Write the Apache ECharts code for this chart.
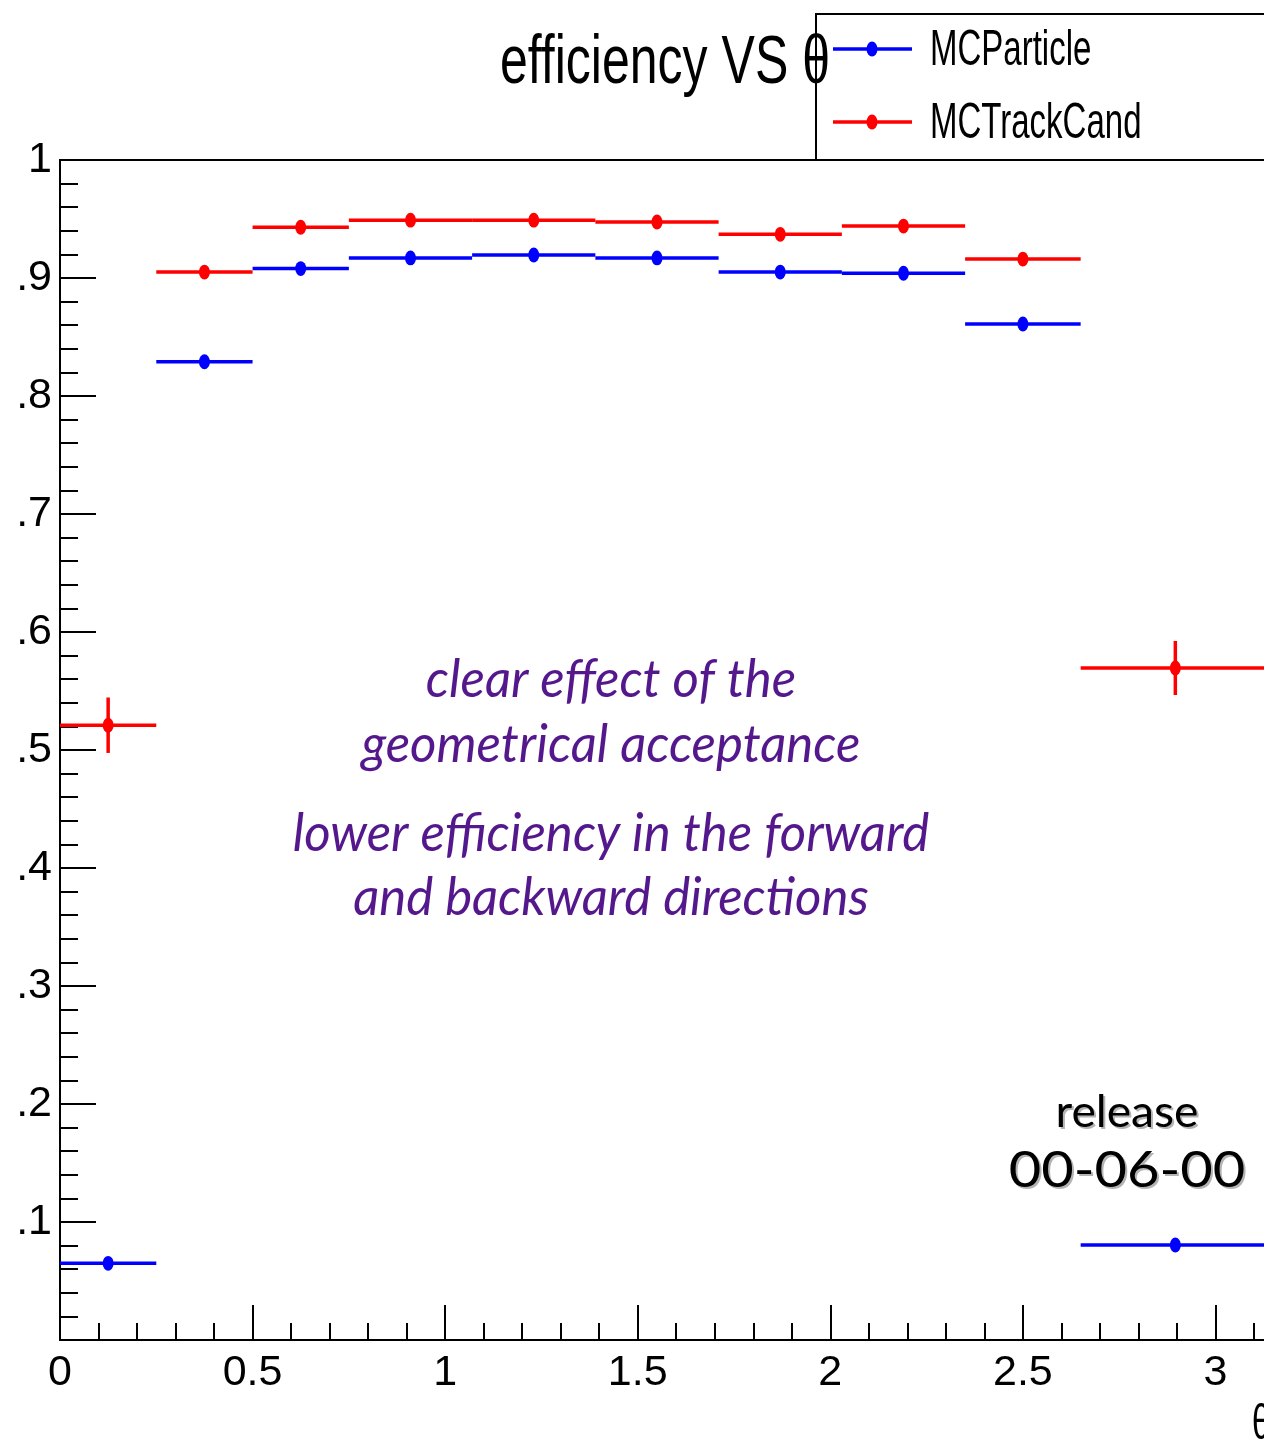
<!DOCTYPE html>
<html>
<head>
<meta charset="utf-8">
<script src="https://cdn.jsdelivr.net/npm/echarts@6/dist/echarts.min.js"></script>
<style>
  html, body { margin: 0; padding: 0; background: #fff; }
  #chart { width: 1264px; height: 1443px; }
</style>
</head>
<body>
<div id="chart"></div>
<script>
// bins in theta (rad)
var binLow  = [0, 0.25, 0.5, 0.75, 1.07, 1.39, 1.71, 2.03, 2.35, 2.65];
var binHigh = [0.25, 0.5, 0.75, 1.07, 1.39, 1.71, 2.03, 2.35, 2.65, 3.1416];

// efficiency per bin
var seriesNames = ['MCParticle', 'MCTrackCand'];
var particleEff = [0.065, 0.829, 0.908, 0.917, 0.9195, 0.917, 0.905, 0.904, 0.861, 0.0805];
var particleErr = [0.003, 0.004, 0.003, 0.003, 0.003, 0.003, 0.003, 0.003, 0.004, 0.003];
var trackEff    = [0.521, 0.905, 0.943, 0.949, 0.949, 0.9475, 0.937, 0.944, 0.916, 0.5695];
var trackErr    = [0.0235, 0.004, 0.003, 0.003, 0.003, 0.003, 0.003, 0.003, 0.004, 0.0229];

var NARROW = '"Liberation Sans Narrow", "Arial Narrow", "Liberation Sans", sans-serif';
var SANS = '"Liberation Sans", Arial, sans-serif';

function toRows(eff, err) {
  return eff.map(function (v, i) { return [binLow[i], binHigh[i], v, err[i]]; });
}

// horizontal bin width + vertical error + marker
function renderErr(params, api) {
  var lo = api.value(0), hi = api.value(1), y = api.value(2), e = api.value(3);
  var xc = (lo + hi) / 2;
  var a = api.coord([lo, y]), b = api.coord([hi, y]);
  var t = api.coord([xc, y + e]), d = api.coord([xc, y - e]);
  var c = api.coord([xc, y]);
  var color = api.visual('color');
  return {
    type: 'group',
    children: [
      { type: 'line', shape: { x1: a[0], y1: a[1], x2: b[0], y2: b[1] }, style: { stroke: color, lineWidth: 3.5 } },
      { type: 'line', shape: { x1: t[0], y1: t[1], x2: d[0], y2: d[1] }, style: { stroke: color, lineWidth: 3.5 } },
      { type: 'circle', x: c[0], y: c[1], scaleY: 1.35, shape: { cx: 0, cy: 0, r: 5.5 }, style: { fill: color } }
    ]
  };
}

function legendItem(y, color, name) {
  return [
    { type: 'line', shape: { x1: 833, y1: y, x2: 912, y2: y }, style: { stroke: color, lineWidth: 3.5 } },
    { type: 'circle', x: 872, y: y, scaleY: 1.35, shape: { cx: 0, cy: 0, r: 5.5 }, style: { fill: color } },
    { type: 'text', x: 930, y: y + 2, scaleX: 0.66,
      style: { text: name, font: '50px ' + SANS, fill: '#000', textVerticalAlign: 'middle' } }
  ];
}

function note(text, y) {
  return { type: 'text', x: 611, y: y, scaleX: 0.98,
    style: { text: text, font: 'italic 52px Lato, sans-serif', fill: '#54188c',
             textAlign: 'center', textVerticalAlign: 'middle' } };
}

// text with a grey drop shadow drawn as a second copy
function shadowed(text, x, y, size, sx) {
  var base = { text: text, font: size + 'px Lato, sans-serif', textAlign: 'center', textVerticalAlign: 'middle' };
  return [
    { type: 'text', x: x + 2, y: y + 2, scaleX: sx, style: Object.assign({ fill: '#b4b4b4' }, base) },
    { type: 'text', x: x, y: y, scaleX: sx, style: Object.assign({ fill: '#000' }, base) }
  ];
}

var chart = echarts.init(document.getElementById('chart'));

var option = {
  backgroundColor: '#fff',
  animation: false,
  grid: {
    left: 60, top: 160, right: -6, bottom: 103,
    outerBoundsMode: 'none',
    show: true, borderColor: '#000', borderWidth: 2, backgroundColor: 'transparent'
  },
  xAxis: {
    type: 'value', min: 0, max: Math.PI, interval: 0.5,
    axisLine: { lineStyle: { color: '#000', width: 2 } },
    axisTick: { inside: true, length: 35, lineStyle: { color: '#000', width: 2 } },
    minorTick: { show: true, splitNumber: 5, length: 17, lineStyle: { color: '#000', width: 2 } },
    splitLine: { show: false },
    axisLabel: {
      margin: 12, color: '#000', fontSize: 43, fontFamily: NARROW,
      formatter: function (v) {
        return Math.abs(v * 2 - Math.round(v * 2)) < 1e-6 ? String(v) : '';
      }
    }
  },
  yAxis: {
    type: 'value', min: 0, max: 1, interval: 0.1,
    axisLine: { lineStyle: { color: '#000', width: 2 } },
    axisTick: { inside: true, length: 36, lineStyle: { color: '#000', width: 2 } },
    minorTick: { show: true, splitNumber: 5, length: 18, lineStyle: { color: '#000', width: 2 } },
    splitLine: { show: false },
    axisLabel: {
      margin: 8, color: '#000', fontSize: 43, fontFamily: NARROW,
      formatter: function (v) {
        if (v === 0) return '';
        if (Math.abs(v - 1) < 1e-6) return '1';
        return '.' + Math.round(v * 10);
      }
    }
  },
  series: [
    {
      name: seriesNames[0], type: 'custom', renderItem: renderErr,
      itemStyle: { color: '#0000ff' },
      encode: { x: [0, 1], y: 2 },
      data: toRows(particleEff, particleErr)
    },
    {
      name: seriesNames[1], type: 'custom', renderItem: renderErr,
      itemStyle: { color: '#ff0000' },
      encode: { x: [0, 1], y: 2 },
      data: toRows(trackEff, trackErr)
    }
  ],
  graphic: [
    { type: 'rect', shape: { x: 816, y: 14, width: 520, height: 146 },
      style: { fill: 'transparent', stroke: '#000', lineWidth: 2 } },
    { type: 'text', x: 500, y: 64, scaleX: 0.725,
      style: { text: 'efficiency VS θ', font: '69px ' + SANS, fill: '#000', textVerticalAlign: 'middle' } }
  ]
    .concat(legendItem(49, '#0000ff', seriesNames[0]))
    .concat(legendItem(122, '#ff0000', seriesNames[1]))
    .concat([
      note('clear effect of the', 680),
      note('geometrical acceptance', 745),
      note('lower efficiency in the forward', 834),
      note('and backward directions', 898)
    ])
    .concat(shadowed('release', 1127, 1113, 44, 1.05))
    .concat(shadowed('00-06-00', 1127, 1171, 50, 1.12))
    .concat([
      { type: 'text', x: 1252, y: 1425, scaleX: 0.66,
        style: { text: 'θ', font: '50px ' + SANS, fill: '#000', textVerticalAlign: 'middle' } }
    ])
};

chart.setOption(option);
</script>
</body>
</html>
